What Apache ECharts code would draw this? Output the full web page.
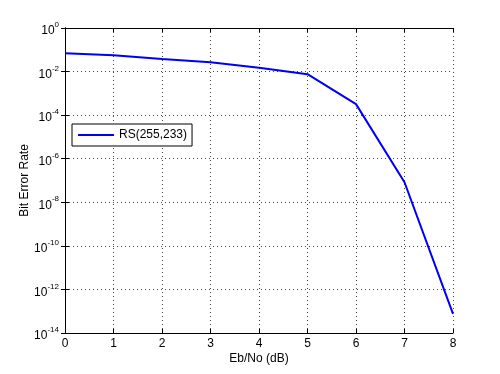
<!DOCTYPE html>
<html><head><meta charset="utf-8">
<script src="https://cdn.jsdelivr.net/npm/echarts@6/dist/echarts.min.js"></script>
<style>html,body{margin:0;padding:0;background:#fff}#c{width:500px;height:374px}</style>
</head><body><div id="c"></div>
<script>
const ebno = [0, 1, 2, 3, 4, 5, 6, 7, 8];
const berRS = [0.069, 0.056, 0.038, 0.027, 0.015, 0.0076, 3.2e-4, 8.3e-8, 7.6e-14];
const seriesName = 'RS(255,233)';
const xTicks = [0, 1, 2, 3, 4, 5, 6, 7, 8];
const yMinExp = -14, yMaxExp = 0, yStepExp = 2;

const chart = echarts.init(document.getElementById('c'));
const font = 'Liberation Sans, Arial, sans-serif';
const gridStyle = {show: true, lineStyle: {color: '#444', type: [1, 3], width: 1}};
chart.setOption({
  backgroundColor: '#fff',
  animation: false,
  grid: {left: 65, right: 47, top: 28, bottom: 41},
  legend: {
    data: [seriesName], left: 72, top: 124, orient: 'vertical',
    backgroundColor: '#fff', borderColor: '#000', borderWidth: 1,
    padding: [5, 5, 5, 6], itemWidth: 36, itemHeight: 2, itemGap: 4,
    icon: 'rect',
    textStyle: {fontFamily: font, fontSize: 12, color: '#000'}
  },
  xAxis: [{
    type: 'value', min: xTicks[0], max: xTicks[xTicks.length - 1], interval: 1,
    name: 'Eb/No (dB)', nameLocation: 'middle', nameGap: 20, nameMoveOverlap: false,
    nameTextStyle: {fontFamily: font, fontSize: 12, color: '#000'},
    axisLine: {show: true, onZero: false, lineStyle: {color: '#000'}},
    axisTick: {show: true, inside: true, length: 4, lineStyle: {color: '#000'}},
    axisLabel: {fontFamily: font, fontSize: 12, color: '#000', margin: 5},
    splitLine: gridStyle
  }, {
    type: 'value', position: 'top', min: xTicks[0], max: xTicks[xTicks.length - 1], interval: 1,
    axisLine: {show: true, lineStyle: {color: '#000'}},
    axisTick: {show: true, inside: true, length: 4, lineStyle: {color: '#000'}},
    axisLabel: {show: false}, splitLine: {show: false}
  }],
  yAxis: [{
    type: 'log', logBase: 10, min: Math.pow(10, yMinExp), max: Math.pow(10, yMaxExp), interval: yStepExp,
    name: 'Bit Error Rate', nameLocation: 'middle', nameGap: 34, nameRotate: 90, nameMoveOverlap: false,
    nameTextStyle: {fontFamily: font, fontSize: 12, color: '#000'},
    axisLine: {show: true, lineStyle: {color: '#000'}},
    axisTick: {show: true, inside: true, length: 4, lineStyle: {color: '#000'}},
    minorTick: {show: false},
    axisLabel: {
      margin: 6,
      formatter: v => '{b|10}{s|' + Math.round(Math.log10(v)) + '}',
      rich: {
        b: {fontFamily: font, fontSize: 12, color: '#000', padding: [6, 0, 0, 0]},
        s: {fontFamily: font, fontSize: 8, color: '#000', padding: [0, 0, 6, 0]}
      }
    },
    splitLine: gridStyle
  }, {
    type: 'log', logBase: 10, position: 'right', min: Math.pow(10, yMinExp), max: Math.pow(10, yMaxExp), interval: yStepExp,
    axisLine: {show: true, lineStyle: {color: '#000'}},
    axisTick: {show: true, inside: true, length: 4, lineStyle: {color: '#000'}},
    axisLabel: {show: false}, splitLine: {show: false}
  }],
  series: [{
    name: seriesName, type: 'line', xAxisIndex: 0, yAxisIndex: 0,
    data: ebno.map((x, i) => [x, berRS[i]]),
    showSymbol: false, symbol: 'none',
    lineStyle: {color: '#0000ee', width: 2},
    itemStyle: {color: '#0000ee'}
  }]
});
</script></body></html>
